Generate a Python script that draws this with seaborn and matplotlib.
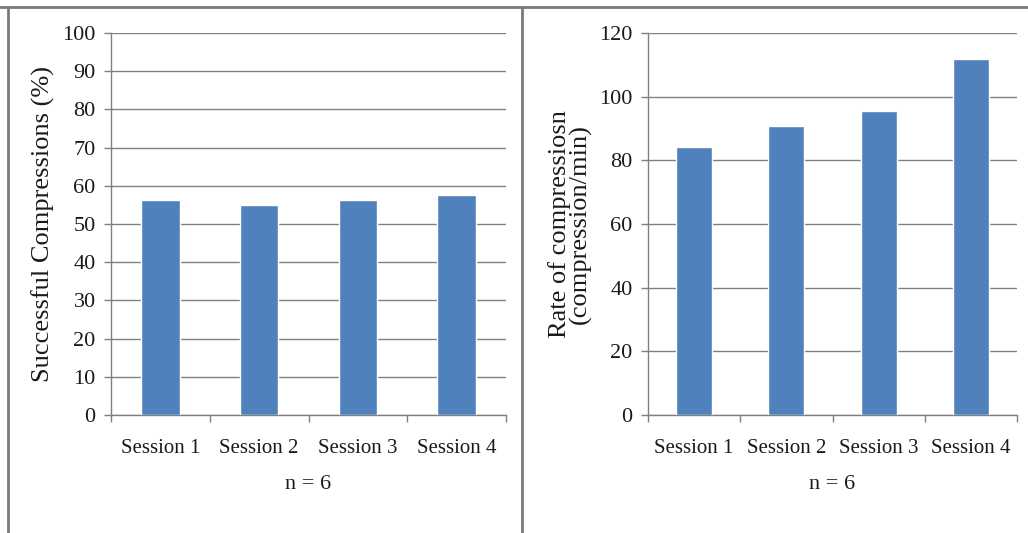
import matplotlib
matplotlib.use("Agg")
import matplotlib.pyplot as plt
from matplotlib.lines import Line2D
from matplotlib.ticker import FixedLocator
import seaborn as sns
import pandas as pd

sessions = ["Session 1", "Session 2", "Session 3", "Session 4"]
success_pct = [56.2, 54.9, 56.2, 57.7]
rate_per_min = [84.3, 90.8, 95.5, 111.7]

sns.set_style("white")
plt.rcParams["font.family"] = ["Liberation Serif", "DejaVu Serif"]

BAR = "#4F81BD"
GRID = "#808080"
FRAME = "#7a7a7a"
TEXT = "#1a1a1a"

fig = plt.figure(figsize=(10.28, 5.33), dpi=100)
fig.patch.set_facecolor("white")

ax1 = fig.add_axes([111 / 1028, 1 - 415 / 533, 395 / 1028, 382 / 533])
ax2 = fig.add_axes([648 / 1028, 1 - 415 / 533, 369 / 1028, 382 / 533])


def draw_panel(ax, values, ymax, step, ylabel, ylabel_x):
    df = pd.DataFrame({"session": sessions, "value": values})
    sns.barplot(data=df, x="session", y="value", color=BAR, width=0.39,
                saturation=1, ax=ax, zorder=3)
    ax.set_xlim(-0.5, len(sessions) - 0.5)
    ax.set_ylim(0, ymax)
    ax.set_yticks(range(0, ymax + 1, step))
    ax.yaxis.grid(True, color=GRID, linewidth=1.0, zorder=0)
    ax.set_axisbelow(True)
    for s in ("top", "right"):
        ax.spines[s].set_visible(False)
    for s in ("left", "bottom"):
        ax.spines[s].set_color(GRID)
        ax.spines[s].set_linewidth(1.0)
    ax.tick_params(axis="y", which="major", direction="out", length=5,
                   width=1.0, color=GRID, pad=6, labelsize=16,
                   labelcolor=TEXT, left=True)
    ax.tick_params(axis="x", which="major", length=0, pad=17, labelsize=15,
                   labelcolor=TEXT)
    ax.xaxis.set_minor_locator(FixedLocator([i - 0.5 for i in range(len(sessions) + 1)]))
    ax.tick_params(axis="x", which="minor", direction="out", length=5,
                   width=1.0, color=GRID, bottom=True)
    ax.set_xlabel("n = 6", fontsize=16, color=TEXT, va="center")
    ax.xaxis.set_label_coords(0.5, -0.183)
    ax.set_ylabel(ylabel, fontsize=19, color=TEXT, va="center",
                  linespacing=0.9)
    ax.yaxis.set_label_coords(ylabel_x, 0.5)


draw_panel(ax1, success_pct, 100, 10, "Successful Compressions (%)", -0.172)
draw_panel(ax2, rate_per_min, 120, 20,
           "Rate of compressiosn\n(compression/min)", -0.211)

# panel frame: top rule, left rule and the divider between the panels
fig.add_artist(Line2D([0, 1], [1 - 6.5 / 533] * 2, color=FRAME, linewidth=2))
fig.add_artist(Line2D([7.5 / 1028] * 2, [0, 1 - 6.5 / 533], color=FRAME, linewidth=2))
fig.add_artist(Line2D([521.5 / 1028] * 2, [0, 1 - 6.5 / 533], color=FRAME, linewidth=2))

fig.savefig("out.png", dpi=100, facecolor="white")
